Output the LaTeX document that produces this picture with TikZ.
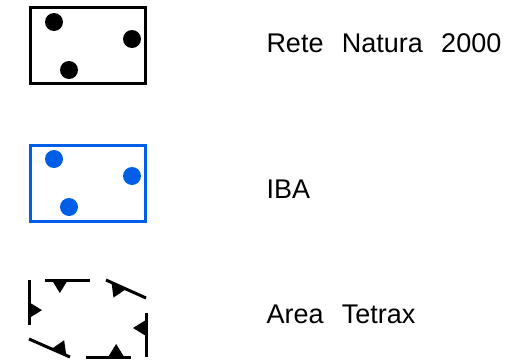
\documentclass[tikz,border=0pt]{standalone}
\usepackage{fontspec}
\setmainfont{Liberation Sans}
\usetikzlibrary{decorations.markings}
\definecolor{ibablue}{RGB}{0,94,230}
\tikzset{
  legtext/.style={anchor=base west,inner sep=0pt,font=\fontsize{27}{32}\selectfont},
  tooth/.style={postaction={decorate,decoration={markings,
      mark=at position #1 with {\fill (-8pt,0) -- (8pt,0) -- (0,-13pt) -- cycle;}}}}
}

\begin{document}
\begin{tikzpicture}[x=1pt,y=-1pt,line width=3pt]
  \useasboundingbox (0,0) rectangle (512,362);

  % Rete Natura 2000
  \draw[black] (30,7) rectangle (145,83);
  \fill[black] (54,22) circle (9) (132,39) circle (9) (69,70) circle (9);
  \node[legtext] (rn) at (265,52) {Rete\hspace{0.68em}Natura\hspace{0.68em}2000};

  % IBA
  \draw[ibablue] (30,145) rectangle (145,221);
  \fill[ibablue] (54,159) circle (9) (132,176) circle (9) (69,207) circle (9);
  \node[legtext] (iba) at (265,198) {IBA};

  % Area Tetrax
  \draw[tooth=0.33] (45,280) -- (90,280);
  \draw[tooth=0.32] (106,280) -- (146,298);
  \draw[tooth=0.34] (146,313) -- (146,357);
  \draw[tooth=0.33] (131,357) -- (86,357);
  \draw[tooth=0.27] (70,357) -- (29,339);
  \draw[tooth=0.33] (29,325) -- (29,280);
  \node[legtext] (at) at (265,323) {Area\hspace{0.68em}Tetrax};
\end{tikzpicture}
\end{document}
